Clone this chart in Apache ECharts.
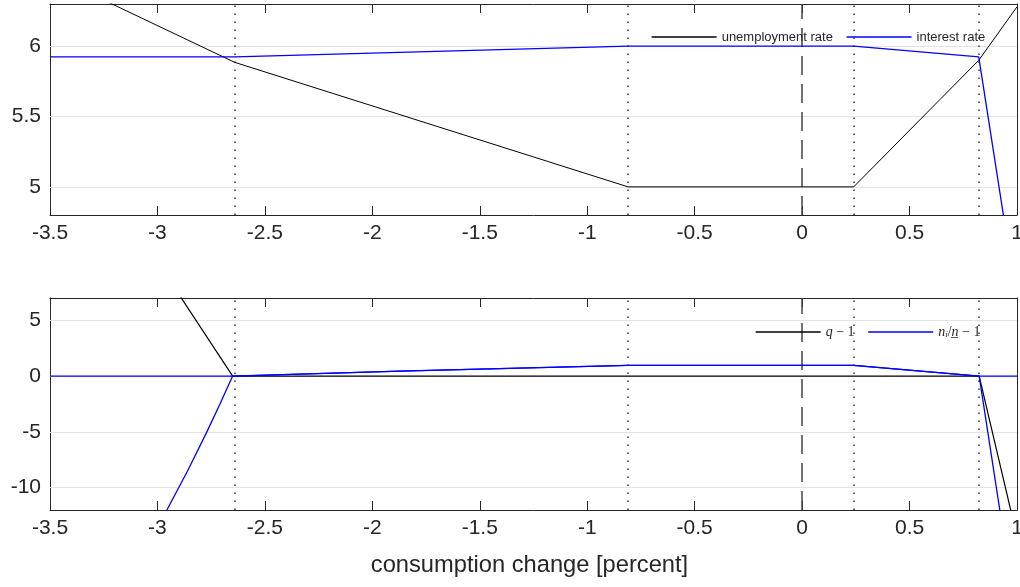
<!DOCTYPE html>
<html>
<head>
<meta charset="utf-8">
<script src="https://cdn.jsdelivr.net/npm/echarts@6/dist/echarts.min.js"></script>
<style>
html,body{margin:0;padding:0;background:#fff;}
#c{width:1020px;height:587px;}
</style>
</head>
<body>
<div id="c"></div>
<script>
// ---- data ----
var xTicks = [-3.5, -3, -2.5, -2, -1.5, -1, -0.5, 0, 0.5, 1];
var topYTicks = [5, 5.5, 6];
var botYTicks = [-10, -5, 0, 5];
var regimeLines = [-2.638, -0.813, 0.24, 0.822];
var zeroLine = [0];

// top panel
var unempX = [-3.5, -2.64, -0.81, 0.24, 0.822, 1.0];
var unempY = [6.51, 5.885, 5.0, 5.0, 5.90, 6.28];
var interestX = [-3.5, -2.64, -0.81, 0.24, 0.822, 1.0];
var interestY = [5.924, 5.924, 6.0, 6.0, 5.924, 4.18];

// bottom panel
var qX = [-3.5, -2.65, 0.824, 1.0];
var qY = [24.9, 0, 0, -14.4];
var nAX = [-3.5, -2.65, -1.87, -0.81, 0.24, 0.824, 1.0];
var nAY = [0, 0, 0.45, 0.955, 0.955, 0, -22];
var nBX = [-3.0, -2.956, -2.86, -2.77, -2.709, -2.65, -1.87, -0.81, 0.24, 0.824, 1.0];
var nBY = [-13.5, -12, -8.5, -5, -2.5, 0, 0.45, 0.955, 0.955, 0, 0];

function zip(xs, ys) { return xs.map(function (x, i) { return [x, ys[i]]; }); }

var FONT = 'Liberation Sans';
var TXT = '#262626';
var AX = '#262626';
var GRIDC = '#e3e3e3';
var BLACK = '#000000';
var BLUE = '#0000ff';

function xAxisBottom(gi) {
  return {
    type: 'value', gridIndex: gi, position: 'bottom', min: -3.5, max: 1, interval: 0.5,
    axisLine: { show: true, onZero: false, lineStyle: { color: AX, width: 1 } },
    axisTick: { show: true, inside: true, length: 9, lineStyle: { color: AX } },
    axisLabel: { show: true, color: TXT, fontFamily: FONT, fontSize: 21, margin: 8,
      formatter: function (v) { return String(+v.toFixed(2)); } },
    splitLine: { show: false }
  };
}
function xAxisTop(gi) {
  return {
    type: 'value', gridIndex: gi, position: 'top', min: -3.5, max: 1, interval: 0.5,
    axisLine: { show: true, onZero: false, lineStyle: { color: AX, width: 1 } },
    axisTick: { show: true, inside: true, length: 9, lineStyle: { color: AX } },
    axisLabel: { show: false }, splitLine: { show: false }
  };
}
function yAxisLeft(gi, mn, mx, ticks) {
  return {
    type: 'value', gridIndex: gi, position: 'left', min: mn, max: mx,
    axisLine: { show: true, onZero: false, lineStyle: { color: AX, width: 1 } },
    axisTick: { show: true, inside: true, length: 10, customValues: ticks, lineStyle: { color: AX } },
    axisLabel: { show: true, customValues: ticks, color: TXT, fontFamily: FONT, fontSize: 21, margin: 9,
      formatter: function (v) { return String(+(+v).toFixed(2)); } },
    splitLine: { show: false }
  };
}
function yAxisRight(gi, mn, mx, ticks) {
  return {
    type: 'value', gridIndex: gi, position: 'right', min: mn, max: mx,
    axisLine: { show: true, onZero: false, lineStyle: { color: AX, width: 1 } },
    axisTick: { show: true, inside: true, length: 10, customValues: ticks, lineStyle: { color: AX } },
    axisLabel: { show: false }, splitLine: { show: false }
  };
}

function vLines(dotted, dashed) {
  var d = dotted.map(function (v) {
    return { xAxis: v, lineStyle: { type: [1.5, 6.5], width: 1.5, color: '#333' } };
  });
  dashed.forEach(function (v) {
    d.push({ xAxis: v, lineStyle: { type: [19, 9], width: 1.5, color: '#444' } });
  });
  return { silent: true, z: 2, symbol: ['none', 'none'], label: { show: false }, animation: false, data: d };
}
function hLines(vals) {
  return { silent: true, z: 1, symbol: ['none', 'none'], label: { show: false }, animation: false,
    data: vals.map(function (v) { return { yAxis: v, lineStyle: { type: 'solid', width: 1, color: GRIDC } }; }) };
}
function legItem(name, color) {
  return { name: name, itemStyle: { opacity: 0 }, lineStyle: { color: color, width: 1.3 } };
}

var option = {
  animation: false,
  backgroundColor: '#fff',
  grid: [
    { left: 50, right: 3, top: 4, height: 211, containLabel: false, outerBoundsMode: 'none' },
    { left: 50, right: 3, top: 298, height: 212, containLabel: false, outerBoundsMode: 'none' }
  ],
  legend: [
    {
      left: 651, top: 30.5, padding: 0, itemWidth: 65, itemHeight: 14, itemGap: 13,
      textStyle: { color: TXT, fontFamily: FONT, fontSize: 13 },
      data: [legItem('unemployment rate', BLACK), legItem('interest rate', BLUE)]
    },
    {
      left: 755, top: 325, padding: 0, itemWidth: 65, itemHeight: 14, itemGap: 13,
      data: [legItem('q-1', BLACK), legItem('n/n-1', BLUE)],
      formatter: function (name) {
        if (name === 'q-1') return '{it|q}{rm| − 1}';
        return '{it|n}{sub|i}{rm|/}{it|n\u0332}{rm| − 1}';
      },
      textStyle: {
        color: TXT,
        rich: {
          it: { fontFamily: 'Liberation Serif', fontStyle: 'italic', fontSize: 14, color: TXT },
          rm: { fontFamily: 'Liberation Serif', fontSize: 14, color: TXT },
          sub: { fontFamily: 'Liberation Serif', fontStyle: 'italic', fontSize: 9, color: TXT, padding: [6, 0, 0, 0] }
        }
      }
    }
  ],
  xAxis: [xAxisBottom(0), xAxisTop(0), xAxisBottom(1), xAxisTop(1)],
  yAxis: [
    yAxisLeft(0, 4.8, 6.3, topYTicks), yAxisRight(0, 4.8, 6.3, topYTicks),
    yAxisLeft(1, -12, 7, botYTicks), yAxisRight(1, -12, 7, botYTicks)
  ],
  series: [
    { name: 'grid-top', type: 'line', xAxisIndex: 0, yAxisIndex: 0, data: [], markLine: hLines(topYTicks), z: 1 },
    { name: 'grid-bot', type: 'line', xAxisIndex: 2, yAxisIndex: 2, data: [], markLine: hLines(botYTicks), z: 1 },
    { name: 'vl-top', type: 'line', xAxisIndex: 0, yAxisIndex: 0, data: [], markLine: vLines(regimeLines, zeroLine), z: 2 },
    { name: 'vl-bot', type: 'line', xAxisIndex: 2, yAxisIndex: 2, data: [], markLine: vLines(regimeLines, zeroLine), z: 2 },
    { name: 'unemployment rate', type: 'line', xAxisIndex: 0, yAxisIndex: 0, data: zip(unempX, unempY),
      symbol: 'none', clip: true, lineStyle: { color: BLACK, width: 1 }, itemStyle: { color: BLACK }, z: 3 },
    { name: 'interest rate', type: 'line', xAxisIndex: 0, yAxisIndex: 0, data: zip(interestX, interestY),
      symbol: 'none', clip: true, lineStyle: { color: BLUE, width: 1.3 }, itemStyle: { color: BLUE }, z: 4 },
    { name: 'q-1', type: 'line', xAxisIndex: 2, yAxisIndex: 2, data: zip(qX, qY),
      symbol: 'none', clip: true, lineStyle: { color: BLACK, width: 1.2 }, itemStyle: { color: BLACK }, z: 3 },
    { name: 'n/n-1', type: 'line', xAxisIndex: 2, yAxisIndex: 2, data: zip(nAX, nAY),
      symbol: 'none', clip: true, lineStyle: { color: BLUE, width: 1.3 }, itemStyle: { color: BLUE }, z: 4 },
    { name: 'n2', type: 'line', xAxisIndex: 2, yAxisIndex: 2, data: zip(nBX, nBY),
      symbol: 'none', clip: true, lineStyle: { color: BLUE, width: 1.3 }, itemStyle: { color: BLUE }, z: 4 }
  ],
  graphic: [
    { type: 'text', x: 529.5, y: 553,
      style: { text: 'consumption change [percent]', fontFamily: FONT, fontSize: 23.7, fill: TXT, align: 'center' } }
  ]
};

var chart = echarts.init(document.getElementById('c'), null, { renderer: 'canvas' });
chart.setOption(option);
</script>
</body>
</html>
